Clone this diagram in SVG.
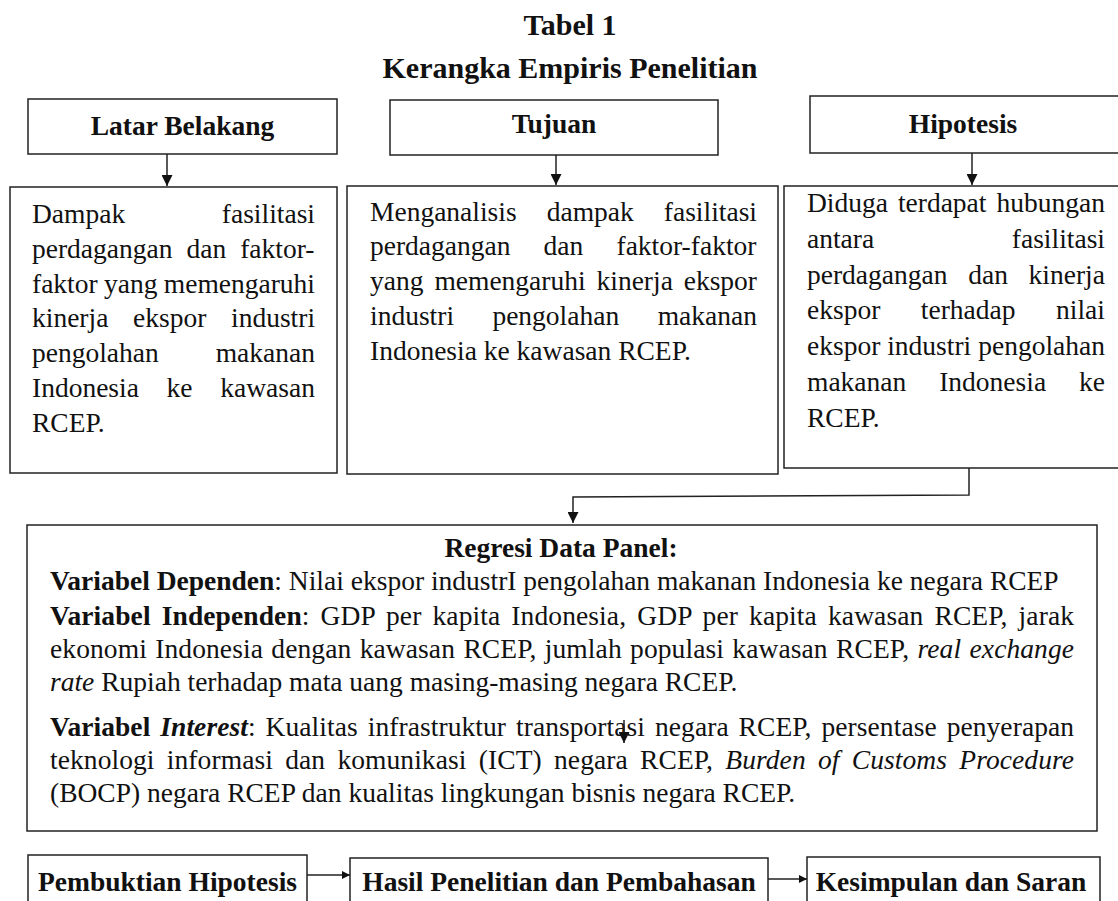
<svg xmlns="http://www.w3.org/2000/svg" width="1118" height="901" viewBox="0 0 1118 901">
<style>
text{font-family:"Liberation Serif","Times New Roman",serif;font-size:27.5px;fill:#111}
.b{font-weight:bold}
.i{font-style:italic}
.t{font-size:30px;font-weight:bold}
.box{fill:#fff;stroke:#222;stroke-width:1.5}
.ln{fill:none;stroke:#222;stroke-width:1.5}
</style>
<defs>
<marker id="ah" viewBox="0 0 10 10" refX="10" refY="5" markerWidth="8" markerHeight="8" markerUnits="userSpaceOnUse" orient="auto">
<path d="M0,0 L10,5 L0,10 z" fill="#111"/>
</marker>
<marker id="ahb" viewBox="0 0 10 10" refX="10" refY="5" markerWidth="11" markerHeight="11" markerUnits="userSpaceOnUse" orient="auto">
<path d="M0,0 L10,5 L0,10 z" fill="#111"/>
</marker>
</defs>
<rect width="1118" height="901" fill="#fff"/>

<g id="title">
<text class="t" x="570" y="35" text-anchor="middle">Tabel 1</text>
<text class="t" x="570" y="78" text-anchor="middle">Kerangka Empiris Penelitian</text>
</g>

<g id="latar-belakang">
<rect class="box" x="28" y="99" width="309" height="55"/>
<text class="b" x="182.5" y="135" text-anchor="middle">Latar Belakang</text>
</g>
<g id="tujuan">
<rect class="box" x="390" y="100" width="328" height="55"/>
<text class="b" x="554" y="133" text-anchor="middle">Tujuan</text>
</g>
<g id="hipotesis">
<rect class="box" x="810" y="96" width="320" height="57"/>
<text class="b" x="963" y="133" text-anchor="middle">Hipotesis</text>
</g>

<g id="isi-latar">
<rect class="box" x="10" y="187" width="327" height="286"/>
<text y="223"><tspan x="32">Dampak</tspan><tspan x="221.8">fasilitasi</tspan></text>
<text y="257.8"><tspan x="32">perdagangan</tspan><tspan x="186.5">dan</tspan><tspan x="240.2">faktor-</tspan></text>
<text y="292.6"><tspan x="32">faktor</tspan><tspan x="104">yang</tspan><tspan x="163.8">memengaruhi</tspan></text>
<text y="327.4"><tspan x="32">kinerja</tspan><tspan x="133">ekspor</tspan><tspan x="231">industri</tspan></text>
<text y="362.2"><tspan x="32">pengolahan</tspan><tspan x="215.7">makanan</tspan></text>
<text y="397"><tspan x="32">Indonesia</tspan><tspan x="166.6">ke</tspan><tspan x="220.3">kawasan</tspan></text>
<text y="431.8"><tspan x="32">RCEP.</tspan></text>
</g>

<g id="isi-tujuan">
<rect class="box" x="347" y="186" width="431" height="288"/>
<text y="220.5"><tspan x="370">Menganalisis</tspan><tspan x="546.7">dampak</tspan><tspan x="663.8">fasilitasi</tspan></text>
<text y="255.3"><tspan x="370">perdagangan</tspan><tspan x="543.6">dan</tspan><tspan x="616.5">faktor-faktor</tspan></text>
<text y="290.1"><tspan x="370">yang</tspan><tspan x="434.4">memengaruhi</tspan><tspan x="596.5">kinerja</tspan><tspan x="683.7">ekspor</tspan></text>
<text y="324.9"><tspan x="370">industri</tspan><tspan x="492.4">pengolahan</tspan><tspan x="657.7">makanan</tspan></text>
<text x="370" y="359.7">Indonesia ke kawasan RCEP.</text>
</g>

<g id="isi-hipotesis">
<path class="box" d="M1120,186 H784 V468 H1120"/>
<text y="212"><tspan x="807">Diduga</tspan><tspan x="897.9">terdapat</tspan><tspan x="996.5">hubungan</tspan></text>
<text y="247.8"><tspan x="807">antara</tspan><tspan x="1011.8">fasilitasi</tspan></text>
<text y="283.6"><tspan x="807">perdagangan</tspan><tspan x="968.2">dan</tspan><tspan x="1028.6">kinerja</tspan></text>
<text y="319.4"><tspan x="807">ekspor</tspan><tspan x="920.8">terhadap</tspan><tspan x="1056.1">nilai</tspan></text>
<text y="355.2"><tspan x="807">ekspor</tspan><tspan x="887.2">industri</tspan><tspan x="978.2">pengolahan</tspan></text>
<text y="391"><tspan x="807">makanan</tspan><tspan x="939.2">Indonesia</tspan><tspan x="1079">ke</tspan></text>
<text x="807" y="426.8">RCEP.</text>
</g>

<g id="regresi">
<rect class="box" x="27" y="525" width="1070" height="306"/>
<text class="b" x="561" y="557" text-anchor="middle">Regresi Data Panel:</text>
<text x="50" y="590"><tspan class="b">Variabel Dependen</tspan>: Nilai ekspor industrI pengolahan makanan Indonesia ke negara RCEP</text>
<text x="50" y="625" word-spacing="4.1" textLength="1024" lengthAdjust="spacing"><tspan class="b">Variabel Independen</tspan>: GDP per kapita Indonesia, GDP per kapita kawasan RCEP, jarak</text>
<text x="50" y="658" word-spacing="1.4" textLength="1024" lengthAdjust="spacing">ekonomi Indonesia dengan kawasan RCEP, jumlah populasi kawasan RCEP, <tspan class="i">real exchange</tspan></text>
<text x="50" y="691"><tspan class="i">rate</tspan> Rupiah terhadap mata uang masing-masing negara RCEP.</text>
<text x="50" y="736" word-spacing="3" textLength="1024" lengthAdjust="spacing"><tspan class="b">Variabel <tspan class="i">Interest</tspan></tspan>: Kualitas infrastruktur transportasi negara RCEP, persentase penyerapan</text>
<text x="50" y="769" word-spacing="5.3" textLength="1024" lengthAdjust="spacing">teknologi informasi dan komunikasi (ICT) negara RCEP, <tspan class="i">Burden of Customs Procedure</tspan></text>
<text x="50" y="802">(BOCP) negara RCEP dan kualitas lingkungan bisnis negara RCEP.</text>
</g>

<g id="pembuktian-hipotesis">
<rect class="box" x="28" y="855" width="279" height="60"/>
<text class="b" x="167.5" y="891" text-anchor="middle">Pembuktian Hipotesis</text>
</g>
<g id="hasil-penelitian">
<rect class="box" x="350" y="858" width="418" height="60"/>
<text class="b" x="559" y="891" text-anchor="middle">Hasil Penelitian dan Pembahasan</text>
</g>
<g id="kesimpulan">
<rect class="box" x="807" y="857" width="293" height="60"/>
<text class="b" x="951" y="891" text-anchor="middle">Kesimpulan dan Saran</text>
</g>

<g id="connectors">
<line class="ln" x1="167" y1="154" x2="167" y2="186" marker-end="url(#ahb)"/>
<line class="ln" x1="556" y1="155" x2="556" y2="185" marker-end="url(#ahb)"/>
<line class="ln" x1="972" y1="153" x2="972" y2="185" marker-end="url(#ahb)"/>
<polyline class="ln" points="969,468 969,495 573,497 573,523" marker-end="url(#ahb)"/>
<line class="ln" x1="624" y1="720" x2="624" y2="743" marker-end="url(#ahb)"/>
<line class="ln" x1="307" y1="875" x2="350" y2="875" marker-end="url(#ah)"/>
<line class="ln" x1="768" y1="879" x2="807" y2="879" marker-end="url(#ah)"/>
</g>
</svg>
